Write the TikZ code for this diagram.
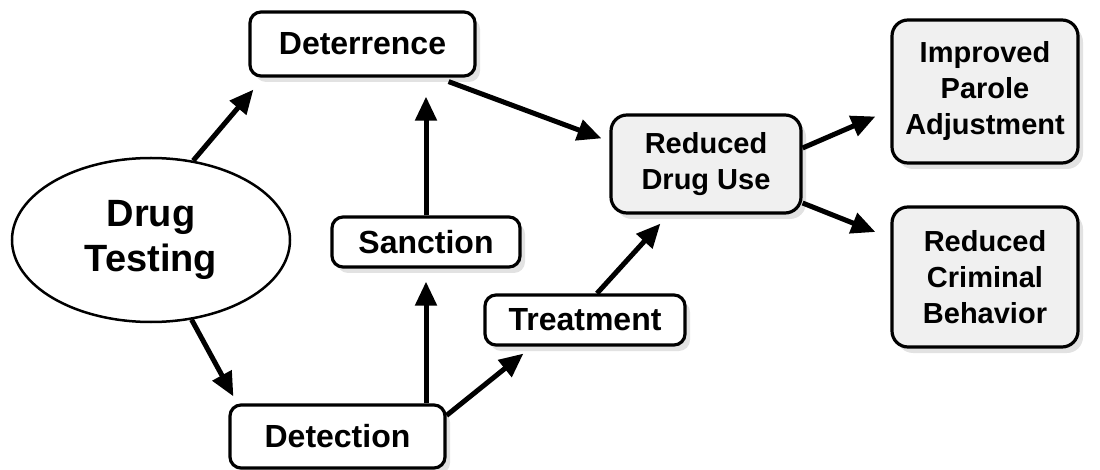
\documentclass[tikz,border=0pt]{standalone}
\usepackage{fontspec}
\setmainfont{Liberation Sans}
\usepackage{tikz}
\usetikzlibrary{positioning, shapes.geometric, shadows, arrows.meta}

\begin{document}
\begin{tikzpicture}[x=1pt, y=-1pt,
	stepbox/.style={rectangle, draw=black, line width=3.2pt, rounded corners=11, fill=white, inner sep=0pt, align=center,
		font=\bfseries\fontsize{32}{36}\selectfont,
		drop shadow={shadow xshift=5pt, shadow yshift=-6pt, fill=gray!45}},
	resultbox/.style={stepbox, fill=gray!12, rounded corners=16, font=\bfseries\fontsize{29}{36}\selectfont},
	causenode/.style={ellipse, draw=black, line width=2.5pt, inner sep=0pt, align=center,
		font=\bfseries\fontsize{38}{45}\selectfont},
	flow/.style={-{Triangle[length=24pt, width=21pt]}, line width=5pt},
	]
	\useasboundingbox (0,0) rectangle (1100,470);
		%Nodes
    \node[causenode, minimum width=278, minimum height=164] (testing)  at (151,240)   {Drug\\Testing};
    \node[stepbox, minimum width=225, minimum height=64]    (deter)    at (362.5,44)  {Deterrence};
    \node[stepbox, minimum width=188, minimum height=50]    (sanction) at (426,242)   {Sanction};
    \node[stepbox, minimum width=215, minimum height=63]    (detect)   at (337.5,436.5) {Detection};
    \node[stepbox, minimum width=200, minimum height=50]    (treat)    at (585,320)   {Treatment};
    \node[resultbox, minimum width=190, minimum height=98]  (reduse)   at (706,164)   {Reduced\\Drug Use};
    \node[resultbox, minimum width=186, minimum height=143] (parole)   at (985,91.5)  {Improved\\Parole\\Adjustment};
    \node[resultbox, minimum width=186, minimum height=140] (crime)    at (985,277)   {Reduced\\Criminal\\Behavior};

		%Lines
		\draw[flow] (testing.62) to ([xshift=5pt, yshift=-12pt]deter.south west);
		\draw[flow] (testing.-63) to ([xshift=5pt, yshift=7pt]detect.north west);
		\draw[flow, shorten >=13pt] (sanction.south |- detect.north) to (sanction.south);
		\draw[flow, shorten >=19pt] (sanction.north) to (sanction.north |- deter.south);
		\draw[flow] ([yshift=-12pt]detect.north east) to ([xshift=40pt, yshift=-7pt]treat.south west);
		\draw[flow] ([xshift=12pt]treat.north) to ([xshift=51pt, yshift=-9pt]reduse.south west);
		\draw[flow] ([xshift=-28pt, yshift=-4pt]deter.south east) to ([xshift=-8pt, yshift=-25pt]reduse.north west);
		\draw[flow] ([yshift=16pt]reduse.east) to ([xshift=-15pt, yshift=-25pt]parole.west);
		\draw[flow] ([yshift=-39pt]reduse.east) to ([xshift=-15pt, yshift=45pt]crime.west);
	\end{tikzpicture}
\end{document}
